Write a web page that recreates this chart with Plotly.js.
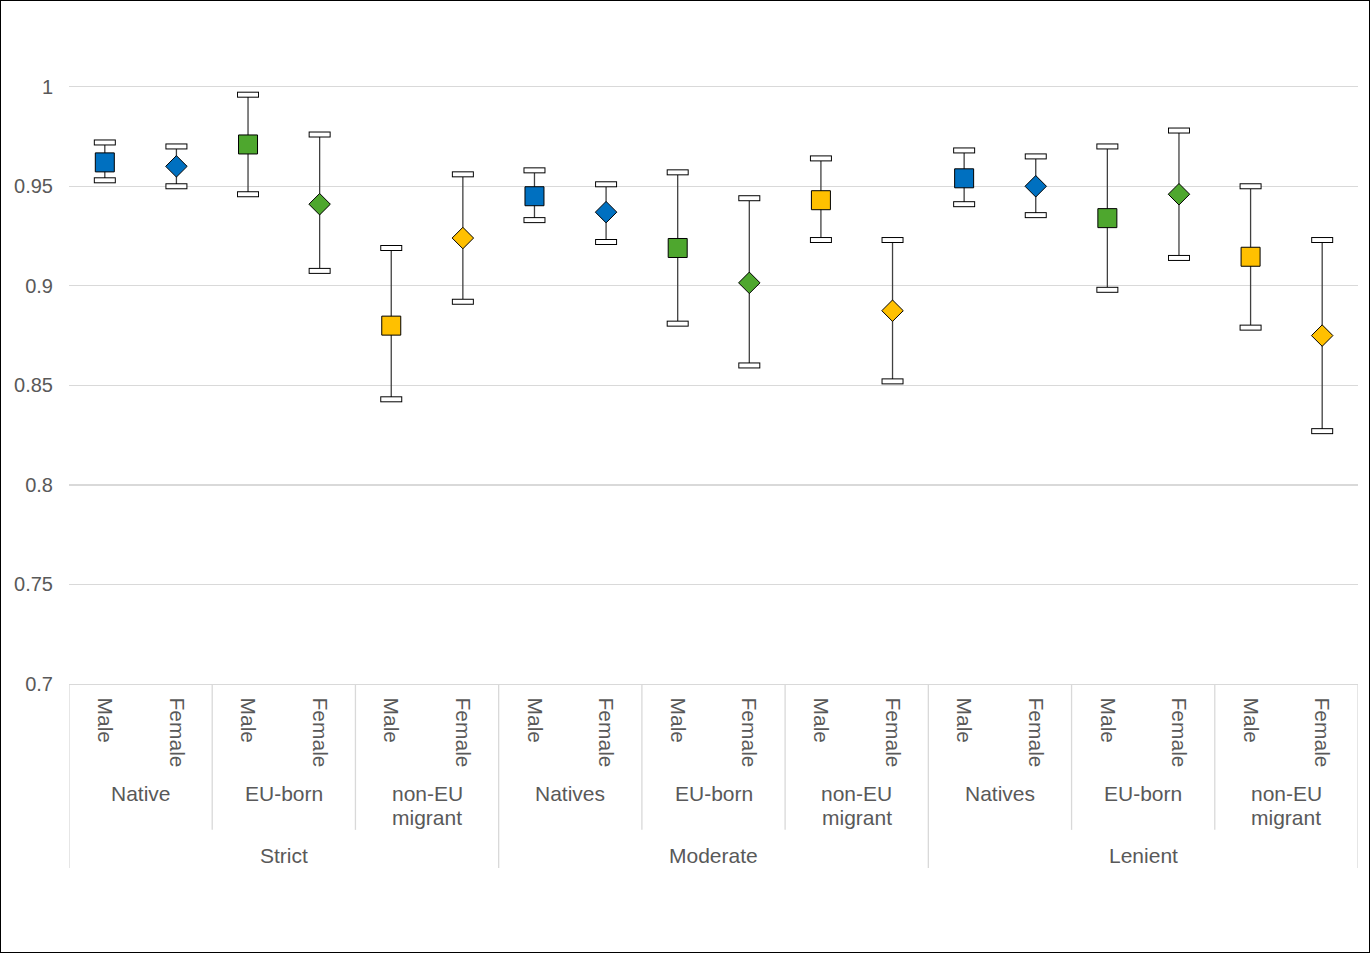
<!DOCTYPE html>
<html>
<head>
<meta charset="utf-8">
<script src="https://cdn.plot.ly/plotly-3.0.1.min.js"></script>
<style>
  html, body { margin: 0; padding: 0; background: #fff; }
  #wrap { position: relative; width: 1370px; height: 953px; }
  #chart { width: 1370px; height: 953px; }
  #frame { position: absolute; left: 0; top: 0; width: 1370px; height: 953px; box-sizing: border-box; border: 1px solid #000; pointer-events: none; }
</style>
</head>
<body>
<div id="wrap"><div id="chart"></div><div id="frame"></div></div>
<script>
// ---- data ----
const genders = ["Male","Female","Male","Female","Male","Female",
                 "Male","Female","Male","Female","Male","Female",
                 "Male","Female","Male","Female","Male","Female"];
const groups = ["Native","EU-born","non-EU<br>migrant",
                "Natives","EU-born","non-EU<br>migrant",
                "Natives","EU-born","non-EU<br>migrant"];
const groupKind = ["nat","eu","noneu","nat","eu","noneu","nat","eu","noneu"];
const strictness = ["Strict","Moderate","Lenient"];
const values = [0.962, 0.960, 0.971, 0.941, 0.880, 0.924,
                0.945, 0.937, 0.919, 0.9015, 0.943, 0.8875,
                0.954, 0.950, 0.934, 0.946, 0.9146, 0.875];
const upper  = [0.972, 0.970, 0.996, 0.976, 0.919, 0.956,
                0.958, 0.951, 0.957, 0.944, 0.964, 0.923,
                0.968, 0.965, 0.970, 0.978, 0.950, 0.923];
const lower  = [0.953, 0.950, 0.946, 0.9075, 0.843, 0.892,
                0.933, 0.922, 0.881, 0.860, 0.923, 0.852,
                0.941, 0.9355, 0.898, 0.914, 0.879, 0.827];
const yTicks = [0.7, 0.75, 0.8, 0.85, 0.9, 0.95, 1];

// ---- styling ----
const kindColor = {nat: "#0070C0", eu: "#4EA72E", noneu: "#FFC000"};
const txt = "#595959";
const grid = "#D9D9D9";
const font = "Liberation Sans, Arial, sans-serif";

const xs = genders.map((g, i) => i);
const colors = xs.map(i => kindColor[groupKind[Math.floor(i / 2)]]);
const symbols = genders.map(g => g === "Male" ? "square" : "diamond");
const sizes = genders.map(g => g === "Male" ? 19 : 16.5);

const stems = {
  x: xs, y: values, type: "scatter", mode: "markers",
  marker: {size: 1, color: "rgba(0,0,0,0)"},
  error_y: {type: "data", symmetric: false,
            array: values.map((v, i) => upper[i] - v),
            arrayminus: values.map((v, i) => v - lower[i]),
            width: 0, thickness: 1.3, color: "#404040"},
  hoverinfo: "skip", showlegend: false
};
const capX = xs.concat(xs);
const capY = upper.concat(lower);
const capOuter = {
  x: capX, y: capY, type: "scatter", mode: "markers",
  marker: {symbol: "line-ew", size: 15.7, opacity: 1, line: {color: "#000", width: 6}},
  hoverinfo: "skip", showlegend: false
};
const capInner = {
  x: capX, y: capY, type: "scatter", mode: "markers",
  marker: {symbol: "line-ew", size: 14.3, opacity: 1, line: {color: "#fff", width: 4}},
  hoverinfo: "skip", showlegend: false
};
const points = {
  x: xs, y: values, type: "scatter", mode: "markers",
  marker: {symbol: symbols, size: sizes, color: colors, opacity: 1, line: {color: "#000", width: 1}},
  showlegend: false
};

// ---- multi-level category axis (labels & separators) ----
const shapes = [];
const annotations = [];
const gBottom = -0.222, sBottom = -0.280;
const lineStep = 24 / 657;
for (let g = 0; g < groups.length; g++) {
  const left = g * 2 - 0.5;
  const isStrict = g % 3 === 0;
  shapes.push({type: "line", xref: "x", yref: "paper", x0: left, x1: left, y0: 0,
               y1: isStrict ? sBottom : gBottom, line: {color: grid, width: 1.3}});
  groups[g].split("<br>").forEach((line, k) => {
    annotations.push({xref: "x", yref: "paper", x: g * 2 + 0.5, y: -0.146 - k * lineStep, yanchor: "top",
                      text: line, showarrow: false, font: {family: font, size: 21, color: txt}});
  });
}
shapes.push({type: "line", xref: "x", yref: "paper", x0: 17.5, x1: 17.5, y0: 0, y1: sBottom,
             line: {color: grid, width: 1.3}});
for (let s = 0; s < strictness.length; s++) {
  annotations.push({xref: "x", yref: "paper", x: s * 6 + 2.5, y: -0.241, yanchor: "top",
                    text: strictness[s], showarrow: false, font: {family: font, size: 21, color: txt}});
}

const layout = {
  width: 1370, height: 953,
  margin: {l: 69, r: 12, t: 27, b: 269},
  paper_bgcolor: "#fff", plot_bgcolor: "#fff",
  font: {family: font, size: 20, color: txt},
  xaxis: {range: [-0.5, 17.5], tickvals: xs, ticktext: genders, tickangle: 90,
          showgrid: false, zeroline: false, showline: true, linecolor: grid, linewidth: 1.3,
          ticks: "", ticklabelstandoff: 8, tickfont: {family: font, size: 21, color: txt},
          fixedrange: true},
  yaxis: {range: [0.7, 1.03], tickvals: yTicks, ticktext: yTicks.map(String),
          showgrid: true, gridcolor: grid, gridwidth: 1.3, zeroline: false, showline: false,
          ticks: "", ticklabelstandoff: 15, tickfont: {family: font, size: 20, color: txt},
          fixedrange: true},
  shapes: shapes, annotations: annotations, showlegend: false
};

Plotly.newPlot("chart", [stems, capOuter, capInner, points], layout, {displayModeBar: false, staticPlot: true});
</script>
</body>
</html>
